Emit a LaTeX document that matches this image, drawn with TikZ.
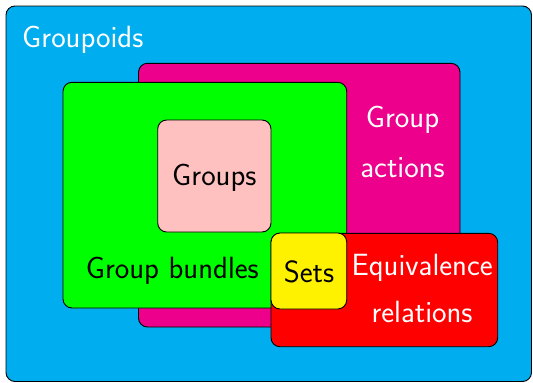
\documentclass[tikz,border=0pt]{standalone}
\usepackage{xcolor}
\definecolor{cBlue}{HTML}{00AEEF}
\definecolor{cMag}{HTML}{EC008C}
\definecolor{cGreen}{HTML}{00FF00}
\definecolor{cRed}{HTML}{FF0000}
\definecolor{cYellow}{HTML}{FFF200}
\definecolor{cPink}{HTML}{FFC0C0}
\begin{document}
\begin{tikzpicture}[x=1pt,y=-1pt,
  setbox/.style={draw=black, line width=0.9pt, rounded corners=9pt, inner sep=0pt, outer sep=0pt},
  lbl/.style={font=\sffamily\fontsize{30.7}{36}\selectfont, inner sep=0pt, anchor=base}]
\useasboundingbox (0,0) rectangle (533,383);
\node[setbox, fill=cBlue, minimum width=525.5pt, minimum height=375.5pt] (groupoids) at (268.75,193.75) {};
\node[setbox, fill=cMag, minimum width=321.5pt, minimum height=263.7pt] (actions) at (299.25,195.15) {};
\node[setbox, fill=cGreen, minimum width=283.7pt, minimum height=225.7pt] (bundles) at (204.85,195.15) {};
\node[setbox, fill=cPink, minimum width=113.3pt, minimum height=112pt] (groups) at (214.35,176) {};
\node[setbox, fill=cRed, minimum width=226.7pt, minimum height=113.4pt] (equiv) at (384.35,290) {};
\node[setbox, fill=cYellow, minimum width=75.7pt, minimum height=76pt] (sets) at (308.85,271) {};
\node[lbl, text=white, anchor=base west] (tGroupoids) at (22,47) {Groupoids};
\node[lbl, text=white] (tGroup) at (402.5,127.5) {Group};
\node[lbl, text=white] (tActions) at (402.5,177.5) {actions};
\node[lbl, text=black] (tGroups) at (214.35,185) {Groups};
\node[lbl, text=black] (tBundles) at (172.3,278) {Group bundles};
\node[lbl, text=black] (tSets) at (309,282) {Sets};
\node[lbl, text=white] (tEquiv) at (422.2,275.5) {Equivalence};
\node[lbl, text=white] (tRel) at (422,322) {relations};
\end{tikzpicture}
\end{document}
